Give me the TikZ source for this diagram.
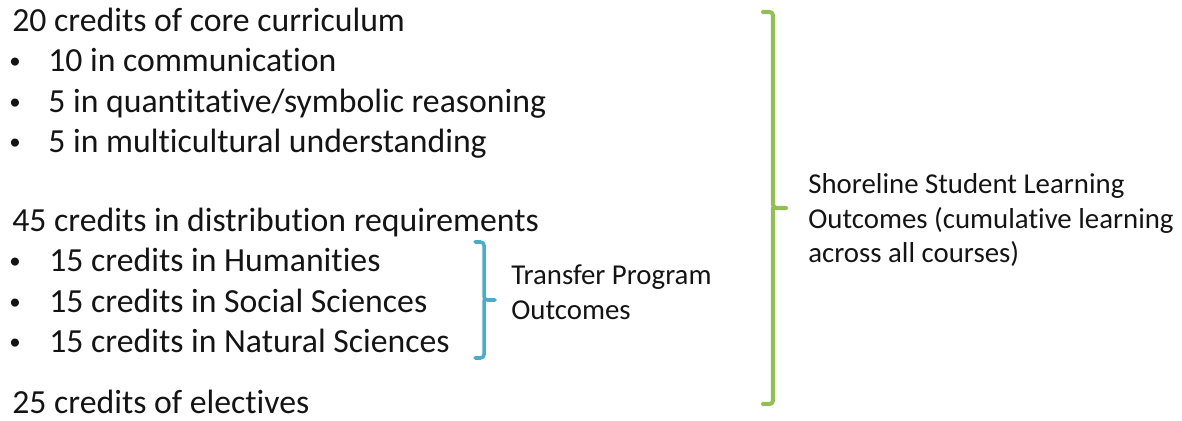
\documentclass[tikz,border=0pt]{standalone}
\usepackage{fontspec}
\setmainfont{Carlito}[Ligatures=NoCommon]
\usepackage{xcolor}
\usetikzlibrary{positioning}

\definecolor{bracegreen}{RGB}{146,190,86}
\definecolor{braceblue}{RGB}{75,172,198}
\definecolor{textdark}{RGB}{20,20,20}

\tikzset{
  credit/.style={anchor=base west, inner sep=0pt, text=textdark, font=\fontsize{19.2}{22}\selectfont},
  bullet/.style={anchor=base, inner sep=0pt, text=textdark, font=\fontsize{13}{15}\selectfont},
  outcome/.style={anchor=west, inner sep=0pt, align=left, text=textdark, font=\fontsize{16.4}{19.9}\selectfont},
  bracket/.style={line width=2.3pt, rounded corners=2pt, line cap=round}
}

\begin{document}
\begin{tikzpicture}[x=0.02cm, y=-0.02cm]
\useasboundingbox (0,0) rectangle (1182,421);

% core curriculum
\node[credit] (core) at (12,32) {20 credits of core curriculum};
\node[bullet] (b1) at (15,69) {•};
\node[credit] (comm) at (48,72) {10 in communication};
\node[bullet] (b2) at (15,110) {•};
\node[credit] (quant) at (48,113) {5 in quantitative/symbolic reasoning};
\node[bullet] (b3) at (15,150) {•};
\node[credit] (multi) at (48,153) {5 in multicultural understanding};

% distribution
\node[credit] (dist) at (12,232) {45 credits in distribution requirements};
\node[bullet] (b4) at (15,269) {•};
\node[credit] (hum) at (49,272) {15 credits in Humanities};
\node[bullet] (b5) at (15,310) {•};
\node[credit] (soc) at (49,313) {15 credits in Social Sciences};
\node[bullet] (b6) at (15,350) {•};
\node[credit] (nat) at (49,353) {15 credits in Natural Sciences};

\node[credit] (elec) at (12,414) {25 credits of electives};

% braces
\coordinate (tpTip) at (495,300);
\draw[bracket, braceblue, line width=2pt]
  (475,242) -- (484,242) -- (484,300) -- (tpTip)
  (484,300) -- (484,358) -- (475,358);
\coordinate (sloTip) at (786,208);
\draw[bracket, bracegreen]
  (763,12) -- (773,12) -- (773,208) -- (sloTip)
  (773,208) -- (773,404) -- (763,404);

\node[outcome] (tp) at (511,292) {Transfer Program\\Outcomes};
\node[outcome] (slo) at (808,220) {Shoreline Student Learning\\Outcomes (cumulative learning\\across all courses)};
\end{tikzpicture}
\end{document}
